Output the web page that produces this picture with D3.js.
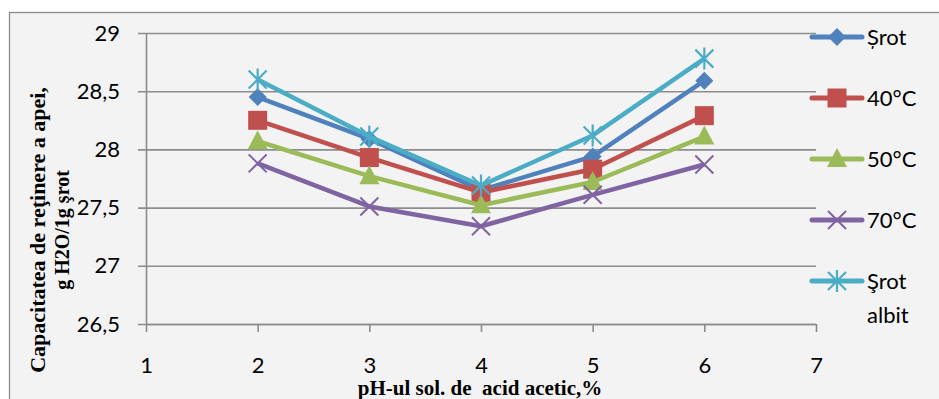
<!DOCTYPE html>
<html>
<head>
<meta charset="utf-8">
<script src="https://cdn.jsdelivr.net/npm/d3@7"></script>
<style>
  html, body { margin: 0; padding: 0; background: #ffffff; }
  svg { display: block; }
</style>
</head>
<body>
<svg id="chart" width="939" height="399"></svg>
<script>
// ---- data ----
const categories = [2, 3, 4, 5, 6];
const xTicks = [1, 2, 3, 4, 5, 6, 7];
const yTicks = [26.5, 27, 27.5, 28, 28.5, 29];
const seriesNames = ["Șrot", "40°C", "50°C", "70°C", "Şrot albit"];
const srot = [28.45, 28.09, 27.65, 27.94, 28.59];
const c40 = [28.25, 27.93, 27.63, 27.83, 28.29];
const c50 = [28.07, 27.77, 27.52, 27.72, 28.11];
const c70 = [27.88, 27.51, 27.34, 27.61, 27.87];
const srotAlbit = [28.60, 28.11, 27.69, 28.12, 28.78];
const yTitleLines = ["Capacitatea de reţinere a apei,", "g H2O/1g şrot"];
const xTitle = "pH-ul sol. de  acid acetic,%";

const colors = ["#4F81BD", "#C0504D", "#9BBB59", "#8064A2", "#4BACC6"];
const markers = ["diamond", "square", "triangle", "x", "asterisk"];
const allSeries = [srot, c40, c50, c70, srotAlbit];

const svg = d3.select("#chart");

// chart area background and border
svg.append("rect").attr("x", 9.5).attr("y", 12.5).attr("width", 940).attr("height", 400)
  .attr("fill", "#f3f3f3").attr("stroke", "#8c8c8c").attr("stroke-width", 1.3);

const x = d3.scaleLinear().domain([1, 7]).range([146, 816]);
const y = d3.scaleLinear().domain([26.5, 29]).range([324, 33]);

const fmt = v => String(v).replace(".", ",");
const tickFont = "Lato, 'Open Sans', sans-serif";
const serif = "'Liberation Serif', 'DejaVu Serif', serif";

// y axis with gridlines
const yAxis = svg.append("g").attr("transform", `translate(146,0)`)
  .call(d3.axisLeft(y).tickValues(yTicks).tickFormat(fmt).tickSizeInner(8).tickSizeOuter(0).tickPadding(18));
yAxis.select(".domain").attr("stroke", "#8c8c8c").attr("stroke-width", 1.6);
yAxis.selectAll(".tick line").attr("x1", -8).attr("x2", 816 - 146)
  .attr("stroke", "#8c8c8c").attr("stroke-width", 1.6);
yAxis.selectAll(".tick text").attr("font-family", tickFont).attr("font-size", 22).attr("fill", "#000");

// x axis
const xAxis = svg.append("g").attr("transform", `translate(0,324)`)
  .call(d3.axisBottom(x).tickValues(xTicks).tickFormat(d3.format("d")).tickSizeInner(8).tickSizeOuter(0).tickPadding(25));
xAxis.select(".domain").attr("stroke", "#8c8c8c").attr("stroke-width", 1.6);
xAxis.selectAll(".tick line").attr("stroke", "#8c8c8c").attr("stroke-width", 1.6);
xAxis.selectAll(".tick text").attr("font-family", tickFont).attr("font-size", 22).attr("fill", "#000");

// axis titles
svg.append("text").attr("x", 480).attr("y", 395).attr("text-anchor", "middle")
  .attr("font-family", serif).attr("font-weight", "bold").attr("font-size", 21)
  .style("white-space", "pre").text(xTitle);

const yt = svg.append("g").attr("transform", "translate(0,230) rotate(-90)");
yt.append("text").attr("x", 0).attr("y", 45).attr("text-anchor", "middle")
  .attr("font-family", serif).attr("font-weight", "bold").attr("font-size", 22).text(yTitleLines[0]);
yt.append("text").attr("x", 0).attr("y", 69).attr("text-anchor", "middle")
  .attr("font-family", serif).attr("font-weight", "bold").attr("font-size", 20).text(yTitleLines[1]);

// marker drawing
function drawMarker(g, type, color, cx, cy) {
  const m = g.append("g").attr("transform", `translate(${cx},${cy})`);
  if (type === "diamond") {
    m.append("path").attr("d", "M0,-9 L9,0 L0,9 L-9,0 Z").attr("fill", color);
  } else if (type === "square") {
    m.append("rect").attr("x", -9.5).attr("y", -9.5).attr("width", 19).attr("height", 19).attr("fill", color);
  } else if (type === "triangle") {
    m.append("path").attr("d", "M0,-11 L10,8 L-10,8 Z").attr("fill", color);
  } else if (type === "x") {
    m.append("path").attr("d", "M-9,-9 L9,9 M-9,9 L9,-9").attr("stroke", color).attr("stroke-width", 2).attr("fill", "none");
  } else if (type === "asterisk") {
    m.append("path").attr("d", "M-9,-9 L9,9 M-9,9 L9,-9 M0,-11 L0,11").attr("stroke", color).attr("stroke-width", 2.2).attr("fill", "none");
  }
}

const line = d3.line().x((d, i) => x(categories[i])).y(d => y(d));

allSeries.forEach((vals, si) => {
  const g = svg.append("g");
  g.append("path").datum(vals).attr("d", line).attr("fill", "none")
    .attr("stroke", colors[si]).attr("stroke-width", 4.5).attr("stroke-linejoin", "round");
  vals.forEach((v, i) => drawMarker(g, markers[si], colors[si], x(categories[i]), y(v)));
});

// legend
const legendY = [37, 98, 159, 220, 281];
seriesNames.forEach((name, si) => {
  const g = svg.append("g");
  const ly = legendY[si];
  g.append("line").attr("x1", 812).attr("x2", 862).attr("y1", ly).attr("y2", ly)
    .attr("stroke", colors[si]).attr("stroke-width", 5).attr("stroke-linecap", "round");
  drawMarker(g, markers[si], colors[si], 837, ly);
  const parts = name === "Şrot albit" ? ["Şrot", "albit"] : [name];
  parts.forEach((p, k) => {
    g.append("text").attr("x", 867).attr("y", ly + 8 + k * 34)
      .attr("font-family", tickFont).attr("font-size", 22).attr("fill", "#000").text(p);
  });
});
</script>
</body>
</html>
